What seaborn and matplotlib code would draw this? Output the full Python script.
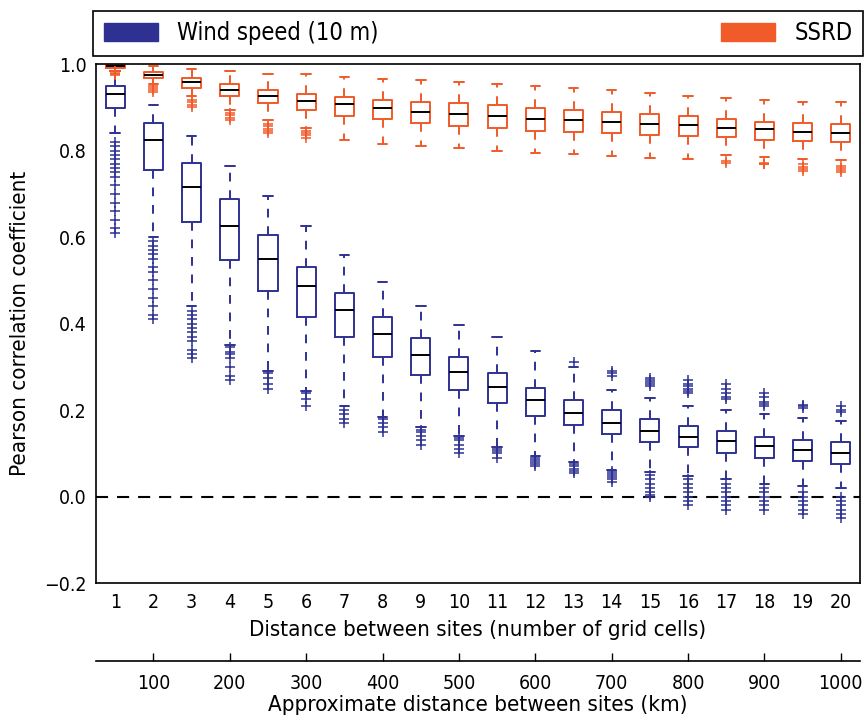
import numpy as np
import pandas as pd
import matplotlib
matplotlib.use("Agg")
import matplotlib.pyplot as plt
from matplotlib.patches import Patch
import seaborn as sns

# ---------------- data ----------------
cells = list(range(1, 21))
km_per_cell = 50
km_ticks = [100, 200, 300, 400, 500, 600, 700, 800, 900, 1000]

wind_hi  = [0.985, 0.905, 0.833, 0.764, 0.696, 0.625, 0.559, 0.497, 0.440, 0.398,
            0.368, 0.336, 0.300, 0.247, 0.228, 0.210, 0.201, 0.190, 0.182, 0.174]
wind_q3  = [0.950, 0.864, 0.772, 0.687, 0.604, 0.532, 0.471, 0.415, 0.367, 0.322,
            0.286, 0.251, 0.223, 0.200, 0.180, 0.163, 0.151, 0.139, 0.132, 0.126]
wind_med = [0.930, 0.825, 0.716, 0.625, 0.550, 0.486, 0.431, 0.376, 0.328, 0.288,
            0.254, 0.223, 0.194, 0.170, 0.151, 0.139, 0.128, 0.116, 0.109, 0.102]
wind_q1  = [0.898, 0.756, 0.635, 0.546, 0.476, 0.415, 0.368, 0.324, 0.281, 0.247,
            0.216, 0.187, 0.165, 0.145, 0.126, 0.114, 0.102, 0.089, 0.082, 0.076]
wind_lo  = [0.840, 0.600, 0.440, 0.350, 0.290, 0.245, 0.210, 0.185, 0.160, 0.140,
            0.115, 0.095, 0.080, 0.062, 0.058, 0.048, 0.040, 0.030, 0.025, 0.020]
wind_fliers = [
    [0.82, 0.81, 0.80, 0.79, 0.78, 0.77, 0.76, 0.75, 0.74, 0.72, 0.70, 0.68, 0.66, 0.64, 0.62, 0.61],
    [0.59, 0.58, 0.57, 0.56, 0.55, 0.53, 0.52, 0.50, 0.48, 0.46, 0.44, 0.42, 0.41],
    [0.43, 0.42, 0.41, 0.40, 0.39, 0.38, 0.37, 0.36, 0.34, 0.33, 0.32],
    [0.345, 0.335, 0.33, 0.32, 0.30, 0.28, 0.27],
    [0.285, 0.275, 0.26, 0.25],
    [0.24, 0.225, 0.21],
    [0.20, 0.19, 0.18, 0.17],
    [0.18, 0.17, 0.16, 0.15],
    [0.155, 0.15, 0.14, 0.13, 0.12],
    [0.135, 0.13, 0.12, 0.11, 0.10],
    [0.11, 0.105, 0.10, 0.09],
    [0.09, 0.085, 0.08, 0.075, 0.07],
    [0.311, 0.075, 0.07, 0.065, 0.06, 0.055],
    [0.29, 0.285, 0.28, 0.06, 0.055, 0.05, 0.045, 0.04, 0.035],
    [0.275, 0.27, 0.265, 0.26, 0.255, 0.05, 0.04, 0.03, 0.02, 0.01, 0.005, 0.0],
    [0.27, 0.26, 0.255, 0.25, 0.245, 0.24, 0.04, 0.03, 0.02, 0.01, 0.0, -0.01, -0.02],
    [0.26, 0.25, 0.24, 0.23, 0.225, 0.03, 0.02, 0.01, 0.0, -0.01, -0.02, -0.03],
    [0.24, 0.23, 0.22, 0.215, 0.21, 0.02, 0.01, 0.0, -0.01, -0.02, -0.03],
    [0.213, 0.21, 0.205, 0.01, 0.0, -0.01, -0.02, -0.03, -0.04],
    [0.209, 0.20, 0.195, 0.0, -0.01, -0.02, -0.03, -0.04, -0.05],
]

ssrd_hi  = [1.000, 0.995, 0.989, 0.983, 0.978, 0.976, 0.970, 0.966, 0.964, 0.958,
            0.955, 0.950, 0.944, 0.939, 0.932, 0.927, 0.921, 0.918, 0.913, 0.912]
ssrd_q3  = [0.997, 0.981, 0.968, 0.955, 0.941, 0.930, 0.924, 0.918, 0.913, 0.909,
            0.905, 0.898, 0.895, 0.890, 0.885, 0.879, 0.873, 0.867, 0.864, 0.862]
ssrd_med = [0.995, 0.975, 0.958, 0.941, 0.927, 0.915, 0.908, 0.899, 0.890, 0.884,
            0.879, 0.872, 0.870, 0.865, 0.862, 0.859, 0.852, 0.849, 0.844, 0.841]
ssrd_q1  = [0.992, 0.968, 0.945, 0.927, 0.909, 0.895, 0.881, 0.872, 0.864, 0.858,
            0.852, 0.846, 0.844, 0.841, 0.837, 0.834, 0.831, 0.825, 0.822, 0.820]
ssrd_lo  = [0.985, 0.955, 0.926, 0.895, 0.870, 0.852, 0.824, 0.816, 0.810, 0.805,
            0.800, 0.795, 0.792, 0.787, 0.782, 0.780, 0.790, 0.785, 0.780, 0.778]
ssrd_fliers = [
    [0.983, 0.980, 0.978, 0.975],
    [0.95, 0.945, 0.94, 0.935],
    [0.918, 0.912, 0.905, 0.90],
    [0.888, 0.882, 0.876, 0.87],
    [0.862, 0.856, 0.85, 0.845, 0.84],
    [0.845, 0.84, 0.835, 0.83],
    [], [], [], [], [], [], [], [], [], [],
    [0.775, 0.772],
    [0.772, 0.770, 0.768],
    [0.768, 0.763, 0.758, 0.752],
    [0.765, 0.760, 0.755, 0.750],
]

series_names = ["Wind speed (10 m)", "SSRD"]
colors = {"Wind speed (10 m)": "#2e3192", "SSRD": "#f15a29"}

# ---------------- tables ----------------
core_rows, flier_rows = [], []
for name, lo, q1, med, q3, hi, fl in [
    (series_names[0], wind_lo, wind_q1, wind_med, wind_q3, wind_hi, wind_fliers),
    (series_names[1], ssrd_lo, ssrd_q1, ssrd_med, ssrd_q3, ssrd_hi, ssrd_fliers),
]:
    for i, c in enumerate(cells):
        for v in [lo[i], q1[i], q1[i], med[i], q3[i], q3[i], hi[i]]:
            core_rows.append((c, v, name))
        for v in fl[i]:
            flier_rows.append((c, v, name))
core = pd.DataFrame(core_rows, columns=["cells", "r", "series"])
fliers = pd.DataFrame(flier_rows, columns=["cells", "r", "series"])

# ---------------- plot ----------------
sns.set_theme(style="white")
plt.rcParams["font.family"] = ["DejaVu Sans"]
plt.rcParams["font.stretch"] = "condensed"
plt.rcParams["text.color"] = "black"
plt.rcParams["axes.labelcolor"] = "black"
plt.rcParams["xtick.color"] = "black"
plt.rcParams["ytick.color"] = "black"

fig = plt.figure(figsize=(8.66, 7.2), dpi=100)
ax = fig.add_axes([0.111, 0.190, 0.882, 0.721])

lw = 1.4
sns.boxplot(data=core, x="cells", y="r", hue="series", hue_order=series_names,
            palette=colors, native_scale=True, dodge=False, fill=False,
            whis=(0, 100), showfliers=False, width=0.5, linewidth=lw,
            medianprops=dict(color="black", linewidth=lw),
            whiskerprops=dict(linestyle=(0, (4.5, 4.5)), linewidth=lw),
            capprops=dict(linewidth=lw),
            legend=False, ax=ax)

for name in series_names:
    sub = fliers[fliers["series"] == name]
    sns.scatterplot(data=sub, x="cells", y="r", color=colors[name], marker="+",
                    s=45, linewidth=1.1, legend=False, ax=ax, zorder=3)

ax.axhline(0, color="black", linestyle=(0, (5.8, 4.3)), linewidth=1.5, zorder=1)

ax.set_xlim(0.5, 20.5)
ax.set_ylim(-0.2, 1.0)
ax.set_xticks(cells)
ax.set_xticklabels([str(c) for c in cells])
ax.set_yticks([-0.2, 0.0, 0.2, 0.4, 0.6, 0.8, 1.0])
ax.set_yticklabels(["\u22120.2", "0.0", "0.2", "0.4", "0.6", "0.8", "1.0"])
ax.tick_params(axis="both", direction="in", length=6, width=1, labelsize=14,
               colors="black", pad=7)
ax.set_xlabel("Distance between sites (number of grid cells)", fontsize=16, labelpad=6)
ax.set_ylabel("Pearson correlation coefficient", fontsize=16, labelpad=10)
for sp in ax.spines.values():
    sp.set_visible(True)
    sp.set_color("black")
    sp.set_linewidth(1.2)

sec = ax.secondary_xaxis(-0.15, functions=(lambda x: x * km_per_cell,
                                           lambda x: x / km_per_cell))
sec.set_xticks(km_ticks)
sec.tick_params(direction="in", length=6, width=1, labelsize=14, colors="black", pad=9)
sec.spines["bottom"].set_linewidth(1.2)
sec.spines["bottom"].set_color("black")
sec.set_xlabel("Approximate distance between sites (km)", fontsize=16, labelpad=2)

handles = [Patch(facecolor=colors[n], edgecolor=colors[n], label=n) for n in series_names]
leg = ax.legend(handles=handles, ncol=2, mode="expand", loc="lower left",
                bbox_to_anchor=(-0.004, 1.016, 1.008, 0.08), borderaxespad=0,
                fancybox=False, framealpha=1, edgecolor="black", fontsize=17,
                handlelength=2.3, handleheight=0.8, borderpad=0.45)
leg.get_frame().set_linewidth(1.2)

fig.savefig("out.png", dpi=100, facecolor="white")
